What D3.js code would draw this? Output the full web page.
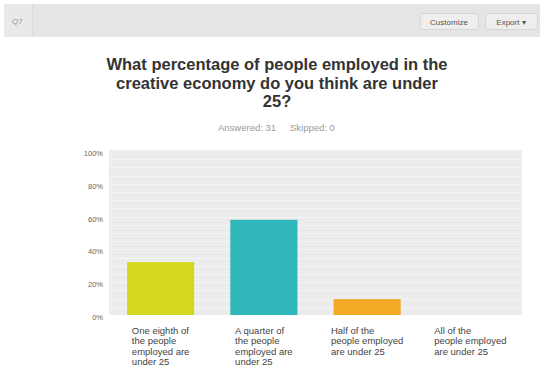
<!DOCTYPE html>
<html>
<head>
<meta charset="utf-8">
<script src="https://cdn.jsdelivr.net/npm/d3@7"></script>
<style>
  html, body { margin: 0; padding: 0; background: #ffffff; }
  svg { display: block; font-family: "Liberation Sans", Arial, Helvetica, sans-serif; }
</style>
</head>
<body>
<svg id="chart" width="540" height="370"></svg>
<script>
// Question text, answer choices and response shares (percent of respondents)
const questionLines = [
  "What percentage of people employed in the",
  "creative economy do you think are under",
  "25?"
];
const categories = ["eighth", "quarter", "half", "all"];
const categoryLabels = [
  ["One eighth of", "the people", "employed are", "under 25"],
  ["A quarter of", "the people", "employed are", "under 25"],
  ["Half of the", "people employed", "are under 25"],
  ["All of the", "people employed", "are under 25"]
];
const values = [32.26, 58.06, 9.68, 0];
const barColors = ["#d3d71d", "#2fb7b9", "#f3a826", "#cccccc"];
const yTicks = [0, 20, 40, 60, 80, 100];
const answered = 31;
const skipped = 0;

const svg = d3.select("#chart");

// Header bar with question number and buttons
const header = svg.append("g");
header.append("rect").attr("x", 4).attr("y", 4).attr("width", 540).attr("height", 33).attr("fill", "#e5e5e5");
header.append("rect").attr("x", 4).attr("y", 4).attr("width", 28).attr("height", 33).attr("fill", "#e9e9e9");
header.append("line").attr("x1", 32.5).attr("x2", 32.5).attr("y1", 4).attr("y2", 37).attr("stroke", "#dadada");
header.append("text").attr("x", 12).attr("y", 23.5).attr("font-size", 8).attr("fill", "#9a9a9a").text("Q7");

const buttons = [
  { label: "Customize", x: 420, w: 58 },
  { label: "Export ▾", x: 485, w: 52 }
];
buttons.forEach(b => {
  header.append("rect").attr("x", b.x + 0.5).attr("y", 13.5).attr("width", b.w).attr("height", 16)
    .attr("rx", 2).attr("fill", "#eeeeee").attr("stroke", "#d6d6d6");
  header.append("text").attr("x", b.x + b.w / 2).attr("y", 24.5).attr("text-anchor", "middle")
    .attr("font-size", 8).attr("fill", "#555").text(b.label);
});

// Title
const title = svg.append("text").attr("text-anchor", "middle").attr("font-size", 16.5)
  .attr("font-weight", "bold").attr("fill", "#333");
questionLines.forEach((line, i) => {
  title.append("tspan").attr("x", 277).attr("y", 70 + i * 18.5).text(line);
});

const sub = svg.append("text").attr("y", 130.5).attr("font-size", 9.5).attr("fill", "#9a9a9a");
sub.append("tspan").attr("x", 218).text(`Answered: ${answered}`);
sub.append("tspan").attr("x", 290).text(`Skipped: ${skipped}`);

// Plot area
const plot = { left: 109, right: 522, top: 151, bottom: 315 };

const x = d3.scaleBand()
  .domain(categories)
  .range([plot.left, plot.right])
  .paddingInner(0.35)
  .paddingOuter(0.175);

const y = d3.scaleLinear()
  .domain([0, 100])
  .range([plot.bottom, plot.top]);

svg.append("rect")
  .attr("x", plot.left).attr("y", plot.top - 1)
  .attr("width", plot.right - plot.left).attr("height", plot.bottom - plot.top + 1)
  .attr("fill", "#ececec");

// Faint stripes every 5%
svg.append("g").selectAll("line")
  .data(d3.range(5, 100, 5))
  .join("line")
  .attr("x1", plot.left).attr("x2", plot.right)
  .attr("y1", d => Math.round(y(d)) + 0.5).attr("y2", d => Math.round(y(d)) + 0.5)
  .attr("stroke", "#f5f5f5").attr("stroke-width", 1);

// Y axis labels
const yAxis = d3.axisLeft(y).tickValues(yTicks).tickFormat(d => d + "%").tickSize(0).tickPadding(6);
const yG = svg.append("g").attr("transform", `translate(${plot.left},2)`).call(yAxis);
yG.select(".domain").remove();
yG.selectAll("text").attr("font-size", 7.5).attr("fill", "#666")
  .attr("font-family", "'Liberation Sans', Arial, sans-serif");

// Bars
svg.append("g").selectAll("rect")
  .data(values)
  .join("rect")
  .attr("x", (d, i) => x(categories[i]))
  .attr("y", d => y(d))
  .attr("width", x.bandwidth())
  .attr("height", d => y(0) - y(d))
  .attr("fill", (d, i) => barColors[i]);

// Category labels: left-aligned lines, block centred under each band
const labelG = svg.append("g");
categories.forEach((c, i) => {
  const t = labelG.append("text").attr("font-size", 9.5).attr("fill", "#444");
  categoryLabels[i].forEach((line, j) => {
    t.append("tspan").attr("x", 0).attr("y", 334 + j * 10.3).text(line);
  });
  const w = t.node().getBBox().width;
  const cx = x(c) + x.bandwidth() / 2;
  t.attr("transform", `translate(${cx - w / 2},0)`);
});
</script>
</body>
</html>
